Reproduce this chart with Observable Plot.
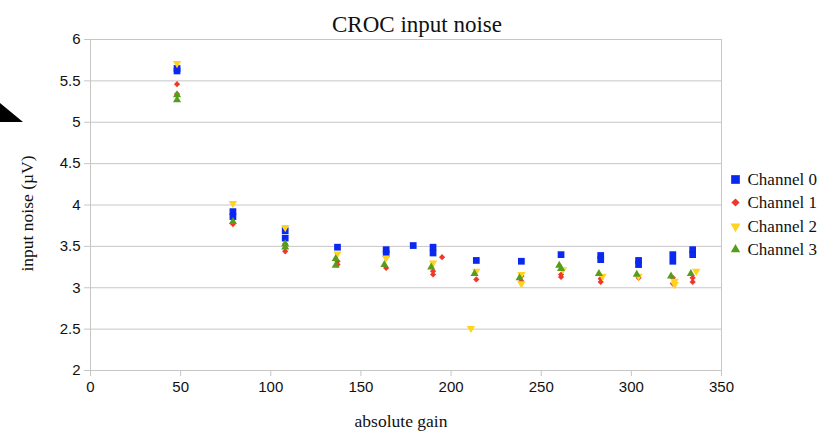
<!DOCTYPE html>
<html>
<head>
<meta charset="utf-8">
<script src="https://cdn.jsdelivr.net/npm/d3@7"></script>
<script src="https://cdn.jsdelivr.net/npm/@observablehq/plot@0.6"></script>
<style>
  html, body { margin: 0; padding: 0; background: #fff; }
  #wrap { position: relative; width: 823px; height: 435px; overflow: hidden; }
  #corner { position: absolute; left: 0; top: 0; }
</style>
</head>
<body>
<div id="wrap"></div>
<script>
// ---- data ----
const title = "CROC input noise";
const xLabel = "absolute gain";
const yLabel = "input noise (µV)";
const channels = ["Channel 0", "Channel 1", "Channel 2", "Channel 3"];
const xTicks = [0, 50, 100, 150, 200, 250, 300, 350];
const yTicks = [2, 2.5, 3, 3.5, 4, 4.5, 5, 5.5, 6];

const gain0 = [48, 48, 79, 79, 108, 108, 137, 164, 164, 179, 190, 190, 214, 239, 261, 283, 283, 304, 304, 323, 323, 334, 334];
const noise0 = [5.65, 5.62, 3.92, 3.86, 3.69, 3.60, 3.49, 3.46, 3.41, 3.51, 3.49, 3.42, 3.33, 3.32, 3.40, 3.39, 3.34, 3.33, 3.28, 3.40, 3.32, 3.46, 3.40];

const gain1 = [48, 48, 79, 108, 108, 137, 137, 164, 190, 190, 195, 214, 239, 239, 261, 261, 283, 283, 304, 323, 323, 334, 334];
const noise1 = [5.46, 5.34, 3.77, 3.53, 3.44, 3.32, 3.28, 3.24, 3.20, 3.16, 3.37, 3.10, 3.14, 3.08, 3.16, 3.13, 3.11, 3.07, 3.12, 3.12, 3.05, 3.12, 3.07];

const gain2 = [48, 79, 108, 137, 164, 190, 211, 214, 239, 239, 262, 284, 304, 324, 324, 336];
const noise2 = [5.71, 4.02, 3.73, 3.41, 3.36, 3.30, 2.51, 3.20, 3.16, 3.05, 3.22, 3.14, 3.14, 3.08, 3.04, 3.20];

const gain3 = [48, 48, 79, 108, 108, 136, 136, 163, 189, 213, 238, 260, 261, 282, 303, 322, 333];
const noise3 = [5.33, 5.27, 3.80, 3.53, 3.49, 3.35, 3.27, 3.28, 3.25, 3.17, 3.12, 3.27, 3.23, 3.17, 3.16, 3.14, 3.17];

const colors = ["#0a28f0", "#f0382a", "#ffd320", "#579d1c"];

// ---- build tables ----
const toRows = (g, n) => g.map((x, i) => ({gain: x, noise: n[i]}));
const series = [toRows(gain0, noise0), toRows(gain1, noise1), toRows(gain2, noise2), toRows(gain3, noise3)];

const invTriangle = {
  draw(context, size) {
    const s3 = Math.sqrt(3);
    const y = -Math.sqrt(size / (s3 * 3));
    context.moveTo(0, -y * 2);
    context.lineTo(-s3 * y, y);
    context.lineTo(s3 * y, y);
    context.closePath();
  }
};
const symbols = ["square", "diamond2", invTriangle, "triangle"];
const radii = [3.8, 2.8, 3.1, 3.0];
const legendRadii = [4.9, 3.7, 3.7, 3.5];
const legendDy = [-25.5, -2.5, 21.5, 44.5];

const serif = "Liberation Serif, Times New Roman, serif";

const marks = [
  Plot.gridY(yTicks, {stroke: "#c6c6c6", strokeOpacity: 1}),
  Plot.frame({stroke: "#c6c6c6"}),
  Plot.axisY(yTicks, {tickFormat: d => String(d), tickSize: 6, tickPadding: 4, stroke: "#c6c6c6", fill: "#111", fontSize: 15, label: null}),
  Plot.axisX(xTicks, {tickSize: 6, tickPadding: 5, stroke: "#c6c6c6", fill: "#111", fontSize: 15, label: null}),
  ...series.map((rows, i) => Plot.dot(rows, {x: "gain", y: "noise", symbol: () => symbols[i], fill: colors[i], r: radii[i], stroke: "none"})),
  Plot.text([title], {frameAnchor: "top", dx: 11, dy: -24, fontFamily: serif, fontSize: 23, fill: "#111"}),
  Plot.text([xLabel], {frameAnchor: "bottom", dx: -5, dy: 56, fontFamily: serif, fontSize: 17.5, fill: "#111"}),
  Plot.text([yLabel], {frameAnchor: "left", textAnchor: "middle", dx: -63, dy: 8.5, rotate: -90, fontFamily: serif, fontSize: 17.5, fill: "#111"}),
  ...channels.map((name, i) => Plot.dot([name], {frameAnchor: "right", dx: 14, dy: legendDy[i], symbol: symbols[i], fill: colors[i], r: legendRadii[i], stroke: "none"})),
  ...channels.map((name, i) => Plot.text([name], {frameAnchor: "right", dx: 26, dy: legendDy[i], textAnchor: "start", fontFamily: serif, fontSize: 17, fill: "#111"}))
];

const chart = Plot.plot({
  width: 823,
  height: 435,
  marginLeft: 90,
  marginRight: 102,
  marginTop: 39,
  marginBottom: 65,
  x: {domain: [0, 350], axis: null},
  y: {domain: [2, 6], axis: null},
  style: {fontFamily: "Liberation Sans, Arial, sans-serif", fontSize: "15px", background: "#fff", overflow: "visible"},
  marks
});

const wrap = document.getElementById("wrap");
wrap.appendChild(chart);
// decorative page artefact at the left edge of the screenshot
const ns = "http://www.w3.org/2000/svg";
const deco = document.createElementNS(ns, "svg");
deco.setAttribute("id", "corner");
deco.setAttribute("width", "30");
deco.setAttribute("height", "435");
const tri = document.createElementNS(ns, "path");
tri.setAttribute("d", "M0,103 L23,122 L0,122 Z");
tri.setAttribute("fill", "#000");
deco.appendChild(tri);
wrap.appendChild(deco);
</script>
</body>
</html>
